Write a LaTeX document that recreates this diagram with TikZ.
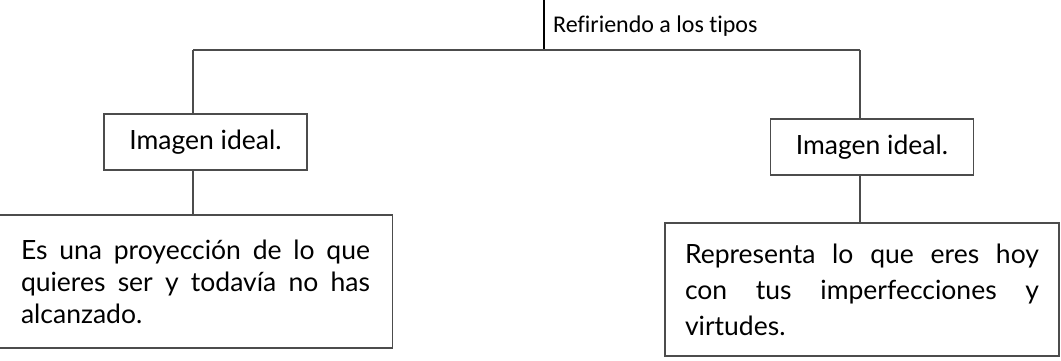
\documentclass[tikz,border=0pt]{standalone}
\usepackage{fontspec}
\setmainfont{Lato}
\newfontfamily\labelfont[Ligatures=NoCommon]{Carlito}
\begin{document}
\begin{tikzpicture}[x=1pt,y=-1pt,
  conn/.style={line width=1.2pt,draw=black!70},
  smallbox/.style={draw=black!70,line width=1.2pt,minimum width=203pt,minimum height=56pt,inner sep=0pt,font=\fontsize{26.5}{30}\selectfont},
  bigbox/.style={draw=black!70,line width=1.2pt,minimum width=394pt,minimum height=133pt,inner sep=0pt,align=justify},
  lbl/.style={font=\labelfont\fontsize{24}{28}\selectfont,inner sep=0pt,anchor=base west}]
\useasboundingbox (0,0) rectangle (1061,360);
\fill[white] (0,0) rectangle (1061,360);
\coordinate (top) at (544,0);
\coordinate (mid) at (544,50);
\coordinate (jl) at (193,50);
\coordinate (jr) at (860,50);
\node[lbl] (label) at (553,32) {Refiriendo a los tipos};
\node[smallbox] (L1) at (205.5,142) {Imagen ideal.};
\node[smallbox] (R1) at (872,147) {Imagen ideal.};
\node[bigbox,text width=349pt,font=\fontsize{26.5}{32}\selectfont] (L2) at (195.5,281.5) {\hyphenpenalty=10000 Es una proyección de lo que\linebreak quieres ser y todavía no has\linebreak alcanzado.};
\node[bigbox,text width=354pt,font=\fontsize{26.5}{36}\selectfont] (R2) at (862,289.5) {\hyphenpenalty=10000 Representa lo que eres hoy\linebreak con tus imperfecciones y\linebreak virtudes.};
\draw[conn,draw=black] (top) -- (mid);
\draw[conn] (jl) -- (jr);
\draw[conn] (jl) -- (jl |- L1.north);
\draw[conn] (jr) -- (jr |- R1.north);
\draw[conn] (L1.south -| jl) -- (jl |- L2.north);
\draw[conn] (R1.south -| jr) -- (jr |- R2.north);
\end{tikzpicture}
\end{document}
